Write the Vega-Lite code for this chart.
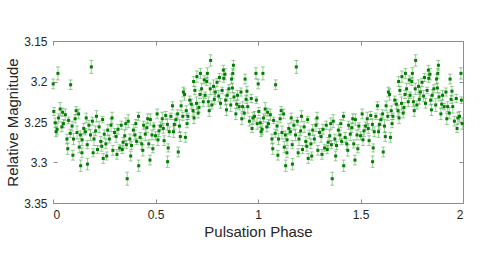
{
  "$schema": "https://vega.github.io/schema/vega-lite/v6.json",
  "width": 410,
  "height": 162,
  "autosize": {"type": "none"},
  "padding": {"left": 53, "top": 41, "right": 22, "bottom": 70},
  "background": "white",
  "config": {"view": {"stroke": null}, "font": "Liberation Sans"},
  "data": {"values": [
    {"a":0.004,"b":1.004,"m":3.237,"e":0.005},
    {"a":0.011,"b":1.011,"m":3.251,"e":0.006},
    {"a":0.020,"b":1.020,"m":3.259,"e":0.007},
    {"a":0.027,"b":1.027,"m":3.245,"e":0.005},
    {"a":0.035,"b":1.035,"m":3.234,"e":0.008},
    {"a":0.043,"b":1.043,"m":3.256,"e":0.006},
    {"a":0.051,"b":1.051,"m":3.252,"e":0.005},
    {"a":0.060,"b":1.060,"m":3.241,"e":0.007},
    {"a":0.068,"b":1.068,"m":3.271,"e":0.006},
    {"a":0.076,"b":1.076,"m":3.248,"e":0.004},
    {"a":0.084,"b":1.084,"m":3.264,"e":0.005},
    {"a":0.093,"b":1.093,"m":3.255,"e":0.006},
    {"a":0.100,"b":1.100,"m":3.271,"e":0.007},
    {"a":0.108,"b":1.108,"m":3.246,"e":0.005},
    {"a":0.117,"b":1.117,"m":3.263,"e":0.008},
    {"a":0.125,"b":1.125,"m":3.240,"e":0.006},
    {"a":0.133,"b":1.133,"m":3.266,"e":0.005},
    {"a":0.142,"b":1.142,"m":3.272,"e":0.007},
    {"a":0.150,"b":1.150,"m":3.258,"e":0.006},
    {"a":0.158,"b":1.158,"m":3.262,"e":0.004},
    {"a":0.167,"b":1.167,"m":3.278,"e":0.005},
    {"a":0.175,"b":1.175,"m":3.254,"e":0.006},
    {"a":0.183,"b":1.183,"m":3.266,"e":0.007},
    {"a":0.192,"b":1.192,"m":3.249,"e":0.005},
    {"a":0.200,"b":1.200,"m":3.271,"e":0.008},
    {"a":0.208,"b":1.208,"m":3.261,"e":0.006},
    {"a":0.217,"b":1.217,"m":3.284,"e":0.005},
    {"a":0.225,"b":1.225,"m":3.256,"e":0.007},
    {"a":0.233,"b":1.233,"m":3.274,"e":0.006},
    {"a":0.242,"b":1.242,"m":3.247,"e":0.004},
    {"a":0.250,"b":1.250,"m":3.265,"e":0.005},
    {"a":0.258,"b":1.258,"m":3.277,"e":0.006},
    {"a":0.267,"b":1.267,"m":3.260,"e":0.007},
    {"a":0.275,"b":1.275,"m":3.271,"e":0.005},
    {"a":0.283,"b":1.283,"m":3.254,"e":0.008},
    {"a":0.292,"b":1.292,"m":3.285,"e":0.006},
    {"a":0.300,"b":1.300,"m":3.263,"e":0.005},
    {"a":0.308,"b":1.308,"m":3.268,"e":0.007},
    {"a":0.317,"b":1.317,"m":3.259,"e":0.006},
    {"a":0.325,"b":1.325,"m":3.282,"e":0.004},
    {"a":0.333,"b":1.333,"m":3.254,"e":0.005},
    {"a":0.342,"b":1.342,"m":3.275,"e":0.006},
    {"a":0.350,"b":1.350,"m":3.267,"e":0.007},
    {"a":0.358,"b":1.358,"m":3.278,"e":0.005},
    {"a":0.367,"b":1.367,"m":3.249,"e":0.008},
    {"a":0.375,"b":1.375,"m":3.271,"e":0.006},
    {"a":0.383,"b":1.383,"m":3.279,"e":0.005},
    {"a":0.392,"b":1.392,"m":3.260,"e":0.007},
    {"a":0.400,"b":1.400,"m":3.266,"e":0.006},
    {"a":0.408,"b":1.408,"m":3.274,"e":0.004},
    {"a":0.417,"b":1.417,"m":3.243,"e":0.005},
    {"a":0.425,"b":1.425,"m":3.269,"e":0.006},
    {"a":0.433,"b":1.433,"m":3.277,"e":0.007},
    {"a":0.442,"b":1.442,"m":3.254,"e":0.005},
    {"a":0.450,"b":1.450,"m":3.265,"e":0.008},
    {"a":0.458,"b":1.458,"m":3.257,"e":0.006},
    {"a":0.467,"b":1.467,"m":3.277,"e":0.005},
    {"a":0.475,"b":1.475,"m":3.247,"e":0.007},
    {"a":0.483,"b":1.483,"m":3.266,"e":0.006},
    {"a":0.492,"b":1.492,"m":3.255,"e":0.004},
    {"a":0.500,"b":1.500,"m":3.267,"e":0.005},
    {"a":0.508,"b":1.508,"m":3.240,"e":0.006},
    {"a":0.517,"b":1.517,"m":3.261,"e":0.007},
    {"a":0.525,"b":1.525,"m":3.255,"e":0.005},
    {"a":0.533,"b":1.533,"m":3.246,"e":0.008},
    {"a":0.542,"b":1.542,"m":3.273,"e":0.006},
    {"a":0.550,"b":1.550,"m":3.242,"e":0.005},
    {"a":0.558,"b":1.558,"m":3.253,"e":0.007},
    {"a":0.567,"b":1.567,"m":3.262,"e":0.006},
    {"a":0.575,"b":1.575,"m":3.243,"e":0.004},
    {"a":0.583,"b":1.583,"m":3.230,"e":0.005},
    {"a":0.592,"b":1.592,"m":3.253,"e":0.006},
    {"a":0.600,"b":1.600,"m":3.247,"e":0.007},
    {"a":0.608,"b":1.608,"m":3.240,"e":0.005},
    {"a":0.617,"b":1.617,"m":3.255,"e":0.008},
    {"a":0.625,"b":1.625,"m":3.230,"e":0.006},
    {"a":0.633,"b":1.633,"m":3.243,"e":0.005},
    {"a":0.642,"b":1.642,"m":3.216,"e":0.007},
    {"a":0.650,"b":1.650,"m":3.236,"e":0.006},
    {"a":0.658,"b":1.658,"m":3.243,"e":0.004},
    {"a":0.667,"b":1.667,"m":3.223,"e":0.005},
    {"a":0.675,"b":1.675,"m":3.228,"e":0.006},
    {"a":0.683,"b":1.683,"m":3.236,"e":0.007},
    {"a":0.692,"b":1.692,"m":3.211,"e":0.005},
    {"a":0.700,"b":1.700,"m":3.227,"e":0.008},
    {"a":0.708,"b":1.708,"m":3.239,"e":0.006},
    {"a":0.717,"b":1.717,"m":3.216,"e":0.005},
    {"a":0.725,"b":1.725,"m":3.209,"e":0.007},
    {"a":0.733,"b":1.733,"m":3.225,"e":0.006},
    {"a":0.742,"b":1.742,"m":3.217,"e":0.004},
    {"a":0.750,"b":1.750,"m":3.200,"e":0.005},
    {"a":0.758,"b":1.758,"m":3.225,"e":0.006},
    {"a":0.767,"b":1.767,"m":3.209,"e":0.007},
    {"a":0.775,"b":1.775,"m":3.229,"e":0.005},
    {"a":0.783,"b":1.783,"m":3.206,"e":0.008},
    {"a":0.792,"b":1.792,"m":3.213,"e":0.006},
    {"a":0.800,"b":1.800,"m":3.201,"e":0.005},
    {"a":0.808,"b":1.808,"m":3.218,"e":0.007},
    {"a":0.817,"b":1.817,"m":3.227,"e":0.006},
    {"a":0.825,"b":1.825,"m":3.211,"e":0.004},
    {"a":0.833,"b":1.833,"m":3.196,"e":0.005},
    {"a":0.842,"b":1.842,"m":3.223,"e":0.006},
    {"a":0.850,"b":1.850,"m":3.217,"e":0.007},
    {"a":0.858,"b":1.858,"m":3.209,"e":0.005},
    {"a":0.867,"b":1.867,"m":3.229,"e":0.008},
    {"a":0.875,"b":1.875,"m":3.208,"e":0.006},
    {"a":0.883,"b":1.883,"m":3.219,"e":0.005},
    {"a":0.892,"b":1.892,"m":3.240,"e":0.007},
    {"a":0.900,"b":1.900,"m":3.217,"e":0.006},
    {"a":0.908,"b":1.908,"m":3.231,"e":0.004},
    {"a":0.917,"b":1.917,"m":3.213,"e":0.005},
    {"a":0.925,"b":1.925,"m":3.231,"e":0.006},
    {"a":0.933,"b":1.933,"m":3.239,"e":0.007},
    {"a":0.942,"b":1.942,"m":3.222,"e":0.005},
    {"a":0.950,"b":1.950,"m":3.231,"e":0.008},
    {"a":0.958,"b":1.958,"m":3.249,"e":0.006},
    {"a":0.967,"b":1.967,"m":3.221,"e":0.005},
    {"a":0.975,"b":1.975,"m":3.245,"e":0.007},
    {"a":0.983,"b":1.983,"m":3.243,"e":0.006},
    {"a":0.992,"b":1.992,"m":3.223,"e":0.004},
    {"a":0.001,"b":1.001,"m":3.203,"e":0.006},
    {"a":0.024,"b":1.024,"m":3.190,"e":0.008},
    {"a":0.086,"b":1.086,"m":3.204,"e":0.006},
    {"a":0.187,"b":1.187,"m":3.182,"e":0.008},
    {"a":0.362,"b":1.362,"m":3.320,"e":0.008},
    {"a":0.135,"b":1.135,"m":3.304,"e":0.007},
    {"a":0.168,"b":1.168,"m":3.302,"e":0.007},
    {"a":0.245,"b":1.245,"m":3.295,"e":0.006},
    {"a":0.141,"b":1.141,"m":3.288,"e":0.006},
    {"a":0.418,"b":1.418,"m":3.304,"e":0.007},
    {"a":0.473,"b":1.473,"m":3.297,"e":0.006},
    {"a":0.559,"b":1.559,"m":3.299,"e":0.007},
    {"a":0.611,"b":1.611,"m":3.287,"e":0.006},
    {"a":0.646,"b":1.646,"m":3.269,"e":0.006},
    {"a":0.769,"b":1.769,"m":3.174,"e":0.007},
    {"a":0.753,"b":1.753,"m":3.190,"e":0.007},
    {"a":0.880,"b":1.880,"m":3.180,"e":0.006},
    {"a":0.831,"b":1.831,"m":3.186,"e":0.006},
    {"a":0.839,"b":1.839,"m":3.191,"e":0.007},
    {"a":0.877,"b":1.877,"m":3.190,"e":0.006},
    {"a":0.937,"b":1.937,"m":3.197,"e":0.006},
    {"a":0.719,"b":1.719,"m":3.190,"e":0.006},
    {"a":0.702,"b":1.702,"m":3.194,"e":0.007},
    {"a":0.686,"b":1.686,"m":3.200,"e":0.006},
    {"a":0.636,"b":1.636,"m":3.213,"e":0.006},
    {"a":0.990,"b":1.990,"m":3.190,"e":0.007},
    {"a":0.015,"b":1.015,"m":3.262,"e":0.006},
    {"a":0.047,"b":1.047,"m":3.238,"e":0.005},
    {"a":0.072,"b":1.072,"m":3.283,"e":0.007},
    {"a":0.097,"b":1.097,"m":3.291,"e":0.006},
    {"a":0.113,"b":1.113,"m":3.236,"e":0.005},
    {"a":0.128,"b":1.128,"m":3.281,"e":0.007},
    {"a":0.162,"b":1.162,"m":3.245,"e":0.006},
    {"a":0.196,"b":1.196,"m":3.288,"e":0.005},
    {"a":0.212,"b":1.212,"m":3.243,"e":0.007},
    {"a":0.238,"b":1.238,"m":3.280,"e":0.006},
    {"a":0.262,"b":1.262,"m":3.292,"e":0.005},
    {"a":0.288,"b":1.288,"m":3.245,"e":0.007},
    {"a":0.312,"b":1.312,"m":3.290,"e":0.006},
    {"a":0.338,"b":1.338,"m":3.284,"e":0.005},
    {"a":0.355,"b":1.355,"m":3.252,"e":0.007},
    {"a":0.379,"b":1.379,"m":3.292,"e":0.006},
    {"a":0.404,"b":1.404,"m":3.252,"e":0.005},
    {"a":0.438,"b":1.438,"m":3.285,"e":0.007},
    {"a":0.462,"b":1.462,"m":3.246,"e":0.006},
    {"a":0.487,"b":1.487,"m":3.283,"e":0.005},
    {"a":0.512,"b":1.512,"m":3.272,"e":0.007},
    {"a":0.538,"b":1.538,"m":3.258,"e":0.006},
    {"a":0.562,"b":1.562,"m":3.282,"e":0.005},
    {"a":0.588,"b":1.588,"m":3.262,"e":0.007},
    {"a":0.621,"b":1.621,"m":3.268,"e":0.006},
    {"a":0.654,"b":1.654,"m":3.252,"e":0.005},
    {"a":0.688,"b":1.688,"m":3.245,"e":0.007},
    {"a":0.712,"b":1.712,"m":3.232,"e":0.006},
    {"a":0.738,"b":1.738,"m":3.198,"e":0.005},
    {"a":0.762,"b":1.762,"m":3.236,"e":0.007},
    {"a":0.787,"b":1.787,"m":3.222,"e":0.006},
    {"a":0.812,"b":1.812,"m":3.195,"e":0.005},
    {"a":0.846,"b":1.846,"m":3.235,"e":0.007},
    {"a":0.871,"b":1.871,"m":3.197,"e":0.006},
    {"a":0.896,"b":1.896,"m":3.228,"e":0.005},
    {"a":0.921,"b":1.921,"m":3.246,"e":0.007},
    {"a":0.946,"b":1.946,"m":3.212,"e":0.006},
    {"a":0.971,"b":1.971,"m":3.258,"e":0.005},
    {"a":0.996,"b":1.996,"m":3.252,"e":0.007}
  ]},
  "transform": [{"fold": ["a", "b"], "as": ["k", "p"]}],
  "layer": [
    {
      "mark": {"type": "errorbar", "ticks": {"size": 4, "color": "#3a9e3a", "opacity": 0.5}, "rule": {"color": "#3a9e3a", "opacity": 0.5}},
      "encoding": {
        "x": {"field": "p", "type": "quantitative",
          "scale": {"domain": [0, 2], "nice": false, "zero": false},
          "axis": {"orient": "bottom", "values": [0, 0.5, 1, 1.5, 2], "format": "~g", "title": "Pulsation Phase",
            "grid": false, "domain": true, "domainColor": "#8c8c8c", "tickColor": "#8c8c8c", "tickSize": -4,
            "labelPadding": 10, "labelFontSize": 12, "labelColor": "#262626", "labelFont": "Liberation Sans",
            "titleFontSize": 15, "titleFontWeight": "normal", "titleColor": "#262626", "titleFont": "Liberation Sans", "titlePadding": 4}},
        "y": {"field": "m", "type": "quantitative",
          "scale": {"domain": [3.15, 3.35], "reverse": true, "nice": false, "zero": false},
          "axis": {"orient": "left", "values": [3.15, 3.2, 3.25, 3.3, 3.35], "format": "~g", "title": "Relative Magnitude",
            "grid": false, "domain": false, "tickColor": "#8c8c8c", "tickSize": -4,
            "labelPadding": 10, "labelFontSize": 12, "labelColor": "#262626", "labelFont": "Liberation Sans",
            "titleFontSize": 15, "titleFontWeight": "normal", "titleColor": "#262626", "titleFont": "Liberation Sans", "titlePadding": 3}},
        "yError": {"field": "e"}
      }
    },
    {
      "mark": {"type": "square", "size": 9, "color": "#007f00", "filled": true, "opacity": 1},
      "encoding": {
        "x": {"field": "p", "type": "quantitative",
          "axis": {"orient": "top", "values": [0, 0.5, 1, 1.5, 2], "labels": false, "title": null, "grid": false,
            "domain": true, "domainColor": "#8c8c8c", "tickColor": "#8c8c8c", "tickSize": -4}},
        "y": {"field": "m", "type": "quantitative",
          "axis": {"orient": "right", "values": [3.15, 3.2, 3.25, 3.3, 3.35], "labels": false, "title": null, "grid": false,
            "domain": true, "domainColor": "#8c8c8c", "tickColor": "#8c8c8c", "tickSize": -4}}
      }
    }
  ],
  "resolve": {"axis": {"x": "independent", "y": "independent"}}
}
